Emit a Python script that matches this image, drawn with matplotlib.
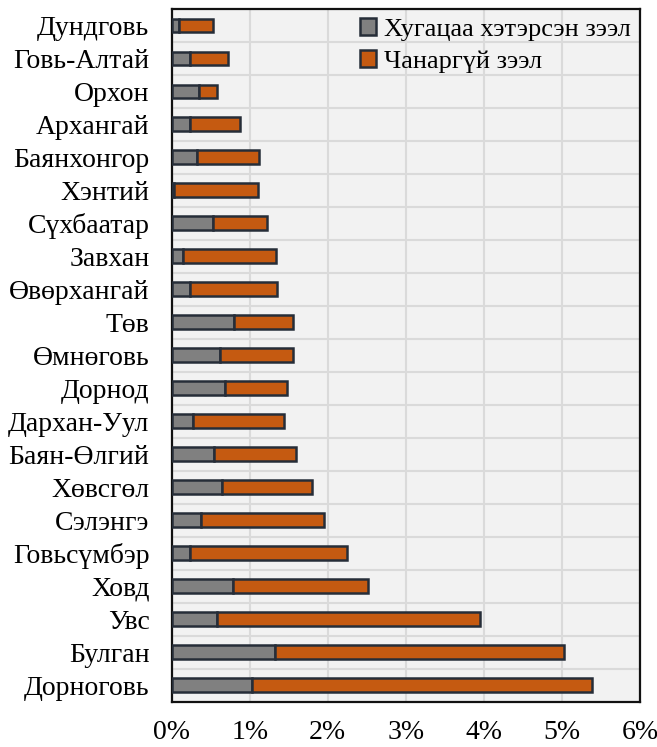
import matplotlib
matplotlib.use("Agg")
import matplotlib.pyplot as plt
from matplotlib.ticker import FuncFormatter, MultipleLocator

plt.rcParams["font.family"] = ["Liberation Serif", "DejaVu Serif"]

# Aimag names, listed bottom to top as drawn on the y axis
aimags = [
    "Дорноговь", "Булган", "Увс", "Ховд", "Говьсүмбэр", "Сэлэнгэ", "Хөвсгөл",
    "Баян-Өлгий", "Дархан-Уул", "Дорнод", "Өмнөговь", "Төв", "Өвөрхангай",
    "Завхан", "Сүхбаатар", "Хэнтий", "Баянхонгор", "Архангай", "Орхон",
    "Говь-Алтай", "Дундговь",
]

# Overdue loans, % of total loans
overdue = [
    1.03, 1.32, 0.58, 0.79, 0.23, 0.38, 0.65,
    0.54, 0.27, 0.68, 0.62, 0.80, 0.24,
    0.14, 0.53, 0.03, 0.32, 0.23, 0.35,
    0.24, 0.10,
]

# Non-performing loans, % of total loans
nonperforming = [
    4.36, 3.71, 3.37, 1.72, 2.02, 1.57, 1.15,
    1.05, 1.17, 0.80, 0.94, 0.75, 1.11,
    1.20, 0.69, 1.07, 0.80, 0.65, 0.23,
    0.48, 0.43,
]

series_labels = ["Хугацаа хэтэрсэн зээл", "Чанаргүй зээл"]
colors = ["#808080", "#c55a11"]
edge = "#262d38"

fig = plt.figure(figsize=(6.57, 7.47), dpi=100)
ax = fig.add_axes([0.2613, 0.0606, 0.7127, 0.9274])
ax.set_facecolor("#f2f2f2")

y = list(range(len(aimags)))
ax.barh(y, overdue, height=0.42, color=colors[0], edgecolor=edge,
        linewidth=1.8, label=series_labels[0], zorder=3)
ax.barh(y, nonperforming, left=overdue, height=0.42, color=colors[1],
        edgecolor=edge, linewidth=1.8, label=series_labels[1], zorder=3)

ax.set_xlim(0, 6)
ax.set_ylim(-0.5, len(aimags) - 0.5)
ax.xaxis.set_major_locator(MultipleLocator(1))
ax.xaxis.set_major_formatter(FuncFormatter(lambda v, _: f"{v:.0f}%"))
ax.set_yticks(y)
ax.set_yticklabels(aimags)
ax.set_yticks([i + 0.5 for i in range(len(aimags) - 1)], minor=True)

ax.grid(axis="x", which="major", color="#dadada", linewidth=1.5, zorder=0)
ax.grid(axis="y", which="minor", color="#dadada", linewidth=1.5, zorder=0)
ax.tick_params(axis="both", which="both", length=0, labelsize=20,
               colors="black")
ax.tick_params(axis="x", pad=13)
ax.tick_params(axis="y", pad=16)

for s in ax.spines.values():
    s.set_color("#111111")
    s.set_linewidth(1.6)

ax.legend(loc="upper right", bbox_to_anchor=(1.0, 1.0), frameon=False,
          fontsize=19, handlelength=0.6, handleheight=0.6,
          handletextpad=0.3, labelspacing=0.35, borderaxespad=0.0,
          borderpad=0.35)

fig.savefig("out.png", dpi=100)
